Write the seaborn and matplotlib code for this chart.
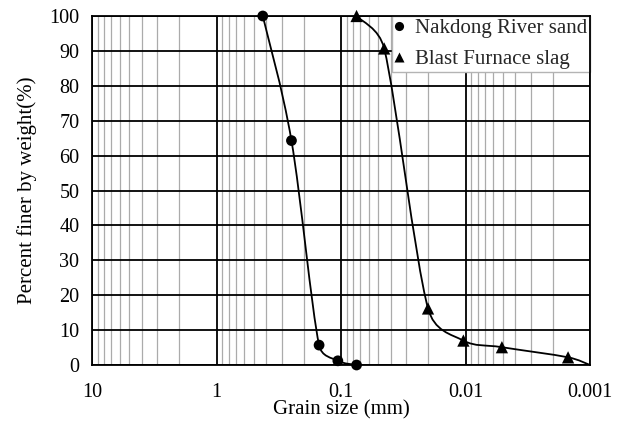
import numpy as np
import pandas as pd
import matplotlib
matplotlib.use("Agg")
import matplotlib.pyplot as plt
from matplotlib.path import Path
from matplotlib.patches import PathPatch
from matplotlib.ticker import LogLocator, FixedLocator, FixedFormatter, NullFormatter
import seaborn as sns

# Sieve analysis results
sand_size = [0.425, 0.25, 0.15, 0.106, 0.075]          # mm
sand_finer = [100, 64.3, 5.7, 1.2, 0]                  # %
slag_size = [0.075, 0.045, 0.02, 0.0104, 0.0051, 0.0015]  # mm
slag_finer = [100, 90.7, 16.2, 7.0, 5.1, 2.2]          # %
slag_curve_end = (0.001, 0)                            # where the fitted curve closes

x_ticks = [10, 1, 0.1, 0.01, 0.001]
x_tick_labels = ["10", "1", "0.1", "0.01", "0.001"]
y_ticks = list(range(0, 101, 10))

sns.set_style("white")
plt.rcParams["font.family"] = ["Liberation Serif", "DejaVu Serif"]

fig = plt.figure(figsize=(6.24, 4.24), dpi=100)
ax = fig.add_axes([92 / 624, 59 / 424, 498 / 624, 349 / 424])
ax.set_xscale("log")
ax.set_xlim(10, 0.001)
ax.set_ylim(0, 100)

# grid: black decades and tens, grey sub-decades
ax.xaxis.set_major_locator(FixedLocator(x_ticks))
ax.xaxis.set_major_formatter(FixedFormatter(x_tick_labels))
ax.xaxis.set_minor_locator(LogLocator(base=10, subs=np.arange(2, 10), numticks=20))
ax.xaxis.set_minor_formatter(NullFormatter())
ax.set_yticks(y_ticks)
ax.grid(which="minor", axis="x", color="#ababab", linewidth=0.9, zorder=0)
ax.grid(which="major", axis="both", color="black", linewidth=1.3, zorder=1)
ax.set_axisbelow(True)
for s in ax.spines.values():
    s.set_color("black")
    s.set_linewidth(1.3)
    s.set_zorder(6)
ax.tick_params(which="both", length=0, labelsize=14.5, colors="black")
ax.tick_params(axis="x", pad=12.8)
ax.tick_params(axis="y", pad=9)


def smooth_path(xs, ys):
    """Spreadsheet-style smoothed line: Bezier segments whose handles follow
    the neighbouring points, built in display space."""
    P = ax.transData.transform(np.column_stack([xs, ys]))
    n = len(P)
    verts = [P[0]]
    codes = [Path.MOVETO]
    for i in range(n - 1):
        p0 = P[max(i - 1, 0)]
        p1 = P[i]
        p2 = P[i + 1]
        p3 = P[min(i + 2, n - 1)]
        d12 = np.linalg.norm(p2 - p1)
        t1 = (p2 - p0) / 6
        t2 = (p3 - p1) / 6
        for t in (t1, t2):
            L = np.linalg.norm(t)
            if L > d12 / 2:
                t *= (d12 / 2) / L
        verts += [p1 + t1, p2 - t2, p2]
        codes += [Path.CURVE4] * 3
    data = ax.transData.inverted().transform(np.array(verts))
    return Path(data, codes)


ax.add_patch(PathPatch(smooth_path(sand_size, sand_finer), facecolor="none",
                       edgecolor="black", linewidth=1.3, zorder=3))
ax.add_patch(PathPatch(smooth_path(slag_size + [slag_curve_end[0]],
                                   slag_finer + [slag_curve_end[1]]),
                       facecolor="none", edgecolor="black", linewidth=1.3, zorder=3))

labels = ["Nakdong River sand", "Blast Furnace slag"]
df = pd.concat([
    pd.DataFrame({"size": sand_size, "finer": sand_finer, "Material": labels[0]}),
    pd.DataFrame({"size": slag_size, "finer": slag_finer, "Material": labels[1]}),
])
sns.scatterplot(data=df, x="size", y="finer", style="Material", size="Material",
                markers={labels[0]: "o", labels[1]: "^"},
                sizes={labels[0]: 60, labels[1]: 78},
                color="black", edgecolor="none", ax=ax, zorder=4, clip_on=False)

ax.set_xlabel("Grain size (mm)", fontsize=15, color="black", labelpad=-1)
ax.set_ylabel("Percent finer by weight(%)", fontsize=15, color="black", labelpad=9)

handles, labs = ax.get_legend_handles_labels()
keep = [(h, l) for h, l in zip(handles, labs) if l in labels]
leg = ax.legend([h for h, _ in keep], [l for _, l in keep], loc="upper right",
                fontsize=15, frameon=True, fancybox=False, framealpha=1,
                borderaxespad=0, handletextpad=0.6, borderpad=0.12,
                labelspacing=0.55, handlelength=0.4, markerscale=0.85)
leg.get_frame().set_edgecolor("#b4b4b4")
leg.get_frame().set_linewidth(1.0)
leg.set_zorder(5)

fig.savefig("out.png", dpi=100)
